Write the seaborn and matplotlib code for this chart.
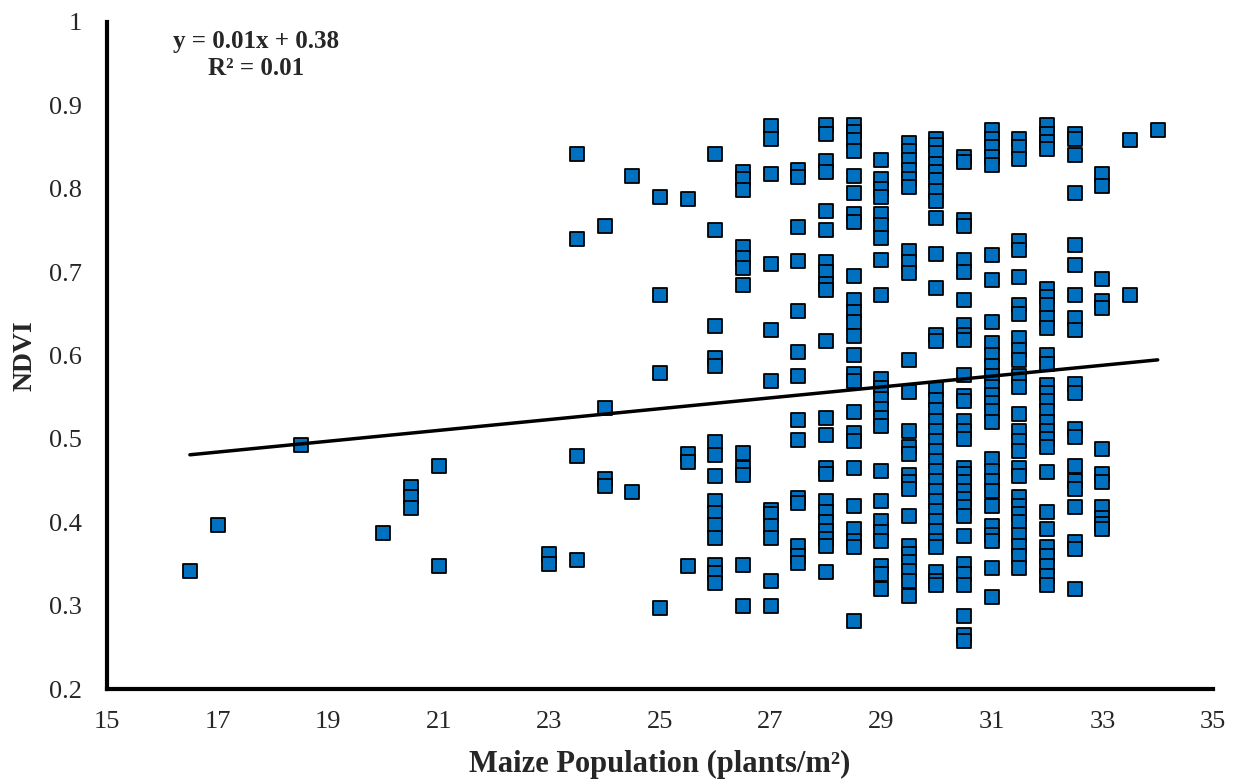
import numpy as np
import pandas as pd
import matplotlib
matplotlib.use("Agg")
import matplotlib.pyplot as plt
import seaborn as sns

# plant population levels (plants/m2) and the NDVI readings observed at each
pop_levels = [16.5, 17, 18.5, 20, 20.5, 21, 23, 23.5, 24, 24.5, 25, 25.5,
              26, 26.5, 27, 27.5, 28, 28.5, 29, 29.5, 30, 30.5, 31, 31.5,
              32, 32.5, 33, 33.5, 34]

ndvi_by_pop = [
    [0.342],
    [0.397],
    [0.493],
    [0.387],
    [0.442, 0.430, 0.417],
    [0.468, 0.348],
    [0.362, 0.350],
    [0.842, 0.740, 0.480, 0.355],
    [0.755, 0.537, 0.452, 0.443],
    [0.815, 0.436],
    [0.790, 0.672, 0.579, 0.297],
    [0.788, 0.482, 0.472, 0.347],
    [0.842, 0.751, 0.635, 0.597, 0.588, 0.496, 0.481, 0.455, 0.426, 0.411,
     0.397, 0.381, 0.349, 0.339, 0.327],
    [0.820, 0.812, 0.798, 0.730, 0.717, 0.705, 0.685, 0.483, 0.465, 0.457,
     0.349, 0.299],
    [0.875, 0.860, 0.818, 0.710, 0.631, 0.569, 0.415, 0.410, 0.395, 0.381,
     0.330, 0.299],
    [0.822, 0.814, 0.754, 0.713, 0.653, 0.604, 0.576, 0.523, 0.499, 0.429,
     0.423, 0.371, 0.360, 0.351],
    [0.877, 0.866, 0.833, 0.820, 0.773, 0.750, 0.712, 0.700, 0.686, 0.678,
     0.617, 0.525, 0.505, 0.465, 0.458, 0.425, 0.412, 0.400, 0.390, 0.380,
     0.372, 0.340],
    [0.877, 0.868, 0.858, 0.845, 0.815, 0.795, 0.770, 0.760, 0.695, 0.667,
     0.652, 0.640, 0.623, 0.601, 0.578, 0.569, 0.532, 0.507, 0.497, 0.465,
     0.420, 0.392, 0.378, 0.370, 0.281],
    [0.834, 0.812, 0.800, 0.790, 0.770, 0.757, 0.741, 0.714, 0.672, 0.572,
     0.561, 0.548, 0.536, 0.525, 0.516, 0.462, 0.425, 0.402, 0.388, 0.377,
     0.347, 0.338, 0.320],
    [0.855, 0.845, 0.834, 0.823, 0.812, 0.802, 0.725, 0.712, 0.699, 0.595,
     0.556, 0.510, 0.490, 0.482, 0.457, 0.448, 0.440, 0.408, 0.372, 0.362,
     0.352, 0.342, 0.330, 0.312],
    [0.860, 0.853, 0.843, 0.830, 0.820, 0.810, 0.797, 0.785, 0.765, 0.722,
     0.681, 0.625, 0.617, 0.560, 0.547, 0.535, 0.522, 0.510, 0.498, 0.486,
     0.474, 0.462, 0.450, 0.438, 0.426, 0.414, 0.402, 0.390, 0.378, 0.370,
     0.340, 0.330, 0.325],
    [0.838, 0.832, 0.762, 0.755, 0.715, 0.700, 0.666, 0.637, 0.625, 0.618,
     0.577, 0.552, 0.546, 0.522, 0.510, 0.500, 0.465, 0.458, 0.448, 0.438,
     0.428, 0.418, 0.408, 0.384, 0.350, 0.338, 0.325, 0.287, 0.265, 0.258],
    [0.870, 0.860, 0.850, 0.838, 0.828, 0.720, 0.690, 0.640, 0.615, 0.600,
     0.587, 0.575, 0.562, 0.553, 0.543, 0.533, 0.520, 0.476, 0.462, 0.450,
     0.438, 0.420, 0.395, 0.385, 0.378, 0.345, 0.310],
    [0.860, 0.850, 0.836, 0.737, 0.727, 0.694, 0.660, 0.650, 0.621, 0.606,
     0.595, 0.575, 0.562, 0.530, 0.510, 0.498, 0.485, 0.465, 0.455, 0.430,
     0.420, 0.410, 0.400, 0.385, 0.372, 0.360, 0.345],
    [0.876, 0.866, 0.856, 0.848, 0.680, 0.670, 0.660, 0.645, 0.633, 0.601,
     0.590, 0.565, 0.555, 0.545, 0.533, 0.520, 0.510, 0.500, 0.490, 0.460,
     0.412, 0.392, 0.370, 0.360, 0.348, 0.335, 0.325],
    [0.866, 0.860, 0.840, 0.795, 0.733, 0.708, 0.672, 0.645, 0.630, 0.566,
     0.555, 0.512, 0.502, 0.468, 0.450, 0.440, 0.418, 0.376, 0.368, 0.320],
    [0.818, 0.803, 0.692, 0.665, 0.657, 0.488, 0.458, 0.448, 0.418, 0.405,
     0.398, 0.392],
    [0.858, 0.672],
    [0.870],
]

x_ticks = [15, 17, 19, 21, 23, 25, 27, 29, 31, 33, 35]
y_ticks = [0.2, 0.3, 0.4, 0.5, 0.6, 0.7, 0.8, 0.9, 1.0]
y_tick_labels = ["0.2", "0.3", "0.4", "0.5", "0.6", "0.7", "0.8", "0.9", "1"]
trend_label = "y = 0.01x + 0.38\nR² = 0.01"

rows = []
for p, vals in zip(pop_levels, ndvi_by_pop):
    for v in vals:
        rows.append((p, v))
df = pd.DataFrame(rows, columns=["population", "ndvi"])

sns.set_style("white")
plt.rcParams["font.family"] = ["Liberation Serif", "DejaVu Serif"]

fig = plt.figure(figsize=(12.38, 7.82), dpi=100)
ax = fig.add_axes([0.0864, 0.1189, 0.8934, 0.853])

sns.regplot(data=df, x="population", y="ndvi", ax=ax, ci=None, truncate=True,
            marker="s",
            scatter_kws={"s": 115, "color": "#0070C0", "edgecolors": "black",
                         "linewidths": 1.3, "alpha": 1, "zorder": 3},
            line_kws={"color": "black", "linewidth": 2.5, "zorder": 4})

ax.text(0.135, 0.988, trend_label, transform=ax.transAxes, ha="center",
        va="top", fontsize=18, fontweight="bold", linespacing=1.25)

ax.set_xlim(15, 35)
ax.set_ylim(0.2, 1.0)
ax.set_xticks(x_ticks)
ax.set_yticks(y_ticks)
ax.set_yticklabels(y_tick_labels)
ax.tick_params(axis="both", length=0, labelsize=19)
ax.tick_params(axis="x", pad=16)
ax.tick_params(axis="y", pad=18)

for side in ["top", "right"]:
    ax.spines[side].set_visible(False)
for side in ["left", "bottom"]:
    ax.spines[side].set_color("black")
    ax.spines[side].set_linewidth(3)

ax.set_xlabel("Maize Population (plants/m²)", fontsize=22, fontweight="bold",
              labelpad=12)
ax.set_ylabel("NDVI", fontsize=20, fontweight="bold", labelpad=8)

fig.savefig("out.png", dpi=100)
